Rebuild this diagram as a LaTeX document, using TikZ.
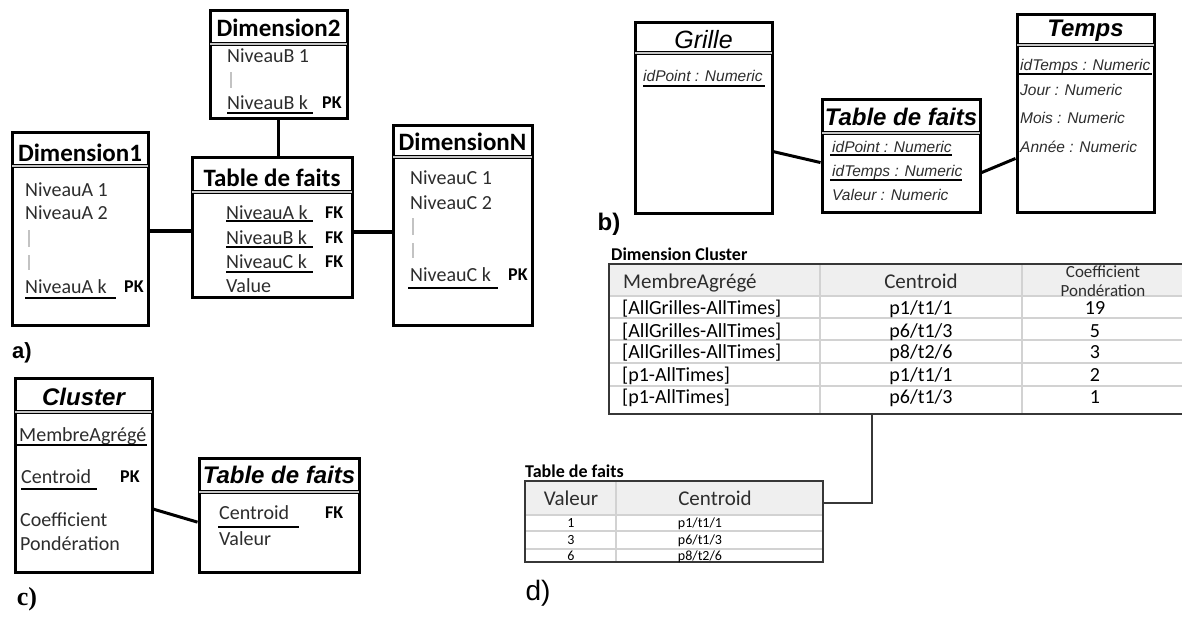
\documentclass[tikz,border=0pt]{standalone}
\usepackage{fontspec}
\setmainfont{Carlito}
\newfontfamily\arialf{Liberation Sans}
\newfontfamily\timesf{Liberation Serif}
\usetikzlibrary{positioning,calc}
\definecolor{txtgrey}{RGB}{45,45,45}
\definecolor{barcol}{RGB}{195,195,195}
\definecolor{hdrfill}{RGB}{239,239,239}
\definecolor{gridcol}{RGB}{210,210,210}
\definecolor{framecol}{RGB}{55,55,55}
\tikzset{
  umlbox/.style={draw=black,line width=3pt,inner sep=0pt,fill=white},
  titlesep/.style={draw=black,line width=0.8pt,double=gray!45,double distance=1.6pt},
  conn/.style={line width=3.5pt,draw=black},
  ul/.style={line width=1.2pt,draw=black},
  bar/.style={line width=2.5pt,draw=barcol},
  ttla/.style={inner sep=0pt,text height=16pt,text depth=0pt,font=\bfseries\fontsize{25}{28}\selectfont},
  attr/.style={inner sep=0pt,text height=13pt,text depth=0pt,font=\fontsize{20}{22}\selectfont,text=txtgrey,anchor=west},
  keyt/.style={inner sep=0pt,text height=11.5pt,text depth=0pt,font=\bfseries\fontsize{18}{20}\selectfont,anchor=west},
  ttlb/.style={inner sep=0pt,text height=17pt,text depth=0pt,font=\arialf\bfseries\itshape\fontsize{24}{26}\selectfont},
  attrb/.style={inner sep=0pt,text height=11pt,text depth=0pt,font=\arialf\itshape\fontsize{15.5}{17}\selectfont,text=txtgrey,anchor=west},
  sublbl/.style={inner sep=0pt,text height=16pt,text depth=0pt,font=\arialf\bfseries\fontsize{22}{24}\selectfont},
  tabcap/.style={inner sep=0pt,text height=11.5pt,text depth=0pt,font=\bfseries\fontsize{18}{20}\selectfont,anchor=west},
  cellh/.style={inner sep=0pt,text height=13.5pt,text depth=0pt,font=\fontsize{21}{23}\selectfont,text=txtgrey},
  cellhs/.style={inner sep=0pt,text height=11pt,text depth=0pt,font=\fontsize{17}{19}\selectfont,text=txtgrey},
  tabcell/.style={inner sep=0pt,text height=13pt,text depth=0pt,font=\fontsize{20}{22}\selectfont,text=black},
  smallcell/.style={inner sep=0pt,text height=9pt,text depth=0pt,font=\fontsize{14}{16}\selectfont,text=black},
  tabframe/.style={draw=framecol,line width=1.5pt},
  gridline/.style={draw=gridcol,line width=1.5pt},
  dconn/.style={draw=framecol,line width=1.5pt},
}
\begin{document}
\begin{tikzpicture}[x=1pt,y=-1pt]
  \useasboundingbox (0,0) rectangle (1182,619);

  % ---- a) ----
  \node[umlbox,minimum width=136pt,minimum height=193pt] (dimA) at (80,228.5) {};
  \node[umlbox,minimum width=137pt,minimum height=108pt] (dimB) at (278.5,64) {};
  \node[umlbox,minimum width=160pt,minimum height=140pt] (faitsA) at (272,227) {};
  \node[umlbox,minimum width=139pt,minimum height=200pt] (dimN) at (462.5,225) {};

  \draw[conn] ([yshift=-4pt]faitsA.west) -- ([yshift=-4pt]faitsA.west -| dimA.east);
  \draw[conn] (dimB.south) -- (dimB.south |- faitsA.north);
  \draw[conn] ([yshift=-5pt]faitsA.east) -- ([yshift=-5pt]faitsA.east -| dimN.west);

  \node[ttla] (dimAt) at (80,153) {Dimension1};
  \draw[titlesep] (12,166) -- (148,166);
  \node[attr] (na1) at (25,190) {NiveauA 1};
  \node[attr] (na2) at (25,213) {NiveauA 2};
  \draw[bar] (29,230) -- (29,247);
  \draw[bar] (29,255) -- (29,270);
  \node[attr] (nak) at (25,287) {NiveauA k};
  \node[keyt] (napk) at (124,287) {PK};
  \draw[ul] (25,298) -- (116,298);

  \node[ttla] (dimBt) at (278.5,28) {Dimension2};
  \draw[titlesep] (210,44) -- (347,44);
  \node[attr] (nb1) at (227,56) {NiveauB 1};
  \draw[bar] (231,72) -- (231,88);
  \node[attr] (nbk) at (227,103) {NiveauB k};
  \node[keyt] (nbpk) at (322,103) {PK};
  \draw[ul] (227,113) -- (313,113);

  \node[ttla] (faitsAt) at (272,178) {Table de faits};
  \draw[titlesep] (192,192) -- (352,192);
  \node[attr] (fa1) at (226,213) {NiveauA k};
  \node[attr] (fa2) at (226,238) {NiveauB k};
  \node[attr] (fa3) at (226,262) {NiveauC k};
  \node[attr] (fa4) at (226,286) {Value};
  \node[keyt] (fak1) at (325,213) {FK};
  \node[keyt] (fak2) at (325,238) {FK};
  \node[keyt] (fak3) at (325,262) {FK};
  \draw[ul] (226,221) -- (313,221);
  \draw[ul] (226,247) -- (313,247);
  \draw[ul] (226,272) -- (313,272);

  \node[ttla] (dimNt) at (462.5,142) {DimensionN};
  \draw[titlesep] (393,157) -- (532,157);
  \node[attr] (nc1) at (410,178) {NiveauC 1};
  \node[attr] (nc2) at (410,203) {NiveauC 2};
  \draw[bar] (413,218) -- (413,235);
  \draw[bar] (413,243) -- (413,258);
  \node[attr] (nck) at (410,275) {NiveauC k};
  \node[keyt] (ncpk) at (508,275) {PK};
  \draw[ul] (408,288) -- (498,288);

  \node[sublbl] (lbla) at (22,350) {a)};

  % ---- b) ----
  \node[umlbox,minimum width=137pt,minimum height=191pt] (grille) at (703.5,117.5) {};
  \node[umlbox,minimum width=158pt,minimum height=113pt] (faitsB) at (901,155.5) {};
  \node[umlbox,minimum width=137pt,minimum height=198pt] (temps) at (1085.5,113) {};

  \draw[conn,line width=3pt] (grille.-26) -- (faitsB.185);
  \draw[conn,line width=3pt] (faitsB.-12) -- (temps.213);

  \node[inner sep=0pt,text height=18pt,text depth=0pt,font=\arialf\itshape\fontsize{25}{27}\selectfont] (grillet) at (703.5,39) {Grille};
  \draw[titlesep] (635,53) -- (772,53);
  \node[attrb] (gp) at (643,76) {idPoint : Numeric};
  \draw[ul] (643,86) -- (765,86);

  \node[ttlb] (faitsBt) at (901,117) {Table de faits};
  \draw[titlesep] (822,133) -- (980,133);
  \node[attrb] (fb1) at (832,147) {idPoint : Numeric};
  \node[attrb] (fb2) at (832,171) {idTemps : Numeric};
  \node[attrb] (fb3) at (832,195) {Valeur : Numeric};
  \draw[ul] (830,155) -- (952,155);
  \draw[ul] (830,180) -- (962,180);

  \node[ttlb] (tempst) at (1085.5,28) {Temps};
  \draw[titlesep] (1017,45) -- (1154,45);
  \node[attrb] (t1) at (1020,65) {idTemps : Numeric};
  \draw[ul] (1017,74) -- (1152,74);
  \node[attrb] (t2) at (1020,90) {Jour : Numeric};
  \node[attrb] (t3) at (1020,118) {Mois : Numeric};
  \node[attrb] (t4) at (1020,147) {Année : Numeric};

  \node[sublbl,text height=17pt,font=\arialf\bfseries\fontsize{24}{26}\selectfont] (lblb) at (609,222) {b)};

  % ---- c) ----
  \node[umlbox,minimum width=137pt,minimum height=194pt] (cluster) at (83.5,475) {};
  \node[umlbox,minimum width=160pt,minimum height=114pt] (faitsC) at (279,515) {};

  \draw[conn,line width=3pt] (cluster.-26) -- (faitsC.185);

  \node[ttlb] (clustert) at (83.5,397) {Cluster};
  \draw[titlesep] (15,412) -- (152,412);
  \node[attr] (cm) at (19,435) {MembreAgrégé};
  \draw[ul] (17,445) -- (147,445);
  \node[attr] (cc) at (21,477) {Centroid};
  \node[keyt] (ccpk) at (120,477) {PK};
  \draw[ul] (21,489) -- (97,489);
  \node[attr] (cf1) at (20,520) {Coefficient};
  \node[attr] (cf2) at (20,544) {Pondération};

  \node[ttlb] (faitsCt) at (279,475) {Table de faits};
  \draw[titlesep] (199,492) -- (359,492);
  \node[attr] (fc1) at (219,513) {Centroid};
  \node[keyt] (fcfk) at (325,513) {FK};
  \draw[ul] (218,527) -- (299,527);
  \node[attr] (fc2) at (219,539) {Valeur};

  \node[inner sep=0pt,text height=17pt,text depth=0pt,font=\timesf\bfseries\fontsize{26}{28}\selectfont] (lblc) at (27,597) {c)};

  % ---- d) ----
  \node[tabcap] (clustcap) at (611,255) {Dimension Cluster};
  \fill[hdrfill] (609,264) rectangle (1182,296);
  \foreach \y in {296,318,340,363,386}
    \draw[gridline] (609,\y) -- (1182,\y);
  \foreach \x in {820,1022}
    \draw[gridline] (\x,264) -- (\x,414);
  \draw[tabframe] (1182,264) -- (609,264) -- (609,414) -- (1182,414);
  \node[cellh,anchor=west] (hm) at (623,282) {MembreAgrégé};
  \node[cellh] (hc) at (921,282) {Centroid};
  \node[cellhs] (hk1) at (1103,272) {Coefficient};
  \node[cellhs] (hk2) at (1103,291) {Pondération};
  \foreach \y/\m/\c/\k [count=\i] in {308/[AllGrilles-AllTimes]/p1\slash t1\slash 1/19,
      331/[AllGrilles-AllTimes]/p6\slash t1\slash 3/5,
      352/[AllGrilles-AllTimes]/p8\slash t2\slash 6/3,
      375/[p1-AllTimes]/p1\slash t1\slash 1/2,
      397/[p1-AllTimes]/p6\slash t1\slash 3/1} {
    \node[tabcell,anchor=west] (rm\i) at (622,\y) {\m};
    \node[tabcell] (rc\i) at (921,\y) {\c};
    \node[tabcell] (rk\i) at (1095,\y) {\k};
  }
  \coordinate (dlink) at (872,414);

  \node[tabcap] (faitscap) at (525,472) {Table de faits};
  \node[inner sep=0pt,minimum width=298pt,minimum height=81pt] (lowtab) at (674,521.5) {};
  \fill[hdrfill] (525,481) rectangle (823,515);
  \foreach \y in {515,531,549}
    \draw[gridline] (525,\y) -- (823,\y);
  \draw[gridline] (616,481) -- (616,562);
  \draw[tabframe] (525,481) rectangle (823,562);
  \node[cellh] (hv) at (571,499) {Valeur};
  \node[cellh] (hc2) at (715,499) {Centroid};
  \foreach \y/\v/\c [count=\i] in {523/1/p1\slash t1\slash 1,540/3/p6\slash t1\slash 3,556/6/p8\slash t2\slash 6} {
    \node[smallcell] (lv\i) at (571,\y) {\v};
    \node[smallcell] (lc\i) at (700,\y) {\c};
  }
  \draw[dconn] ([yshift=18.5pt]lowtab.east) -| (dlink);

  \node[inner sep=0pt,text height=20pt,text depth=0pt,font=\arialf\fontsize{28}{30}\selectfont] (lbld) at (538,590) {d)};
\end{tikzpicture}
\end{document}
